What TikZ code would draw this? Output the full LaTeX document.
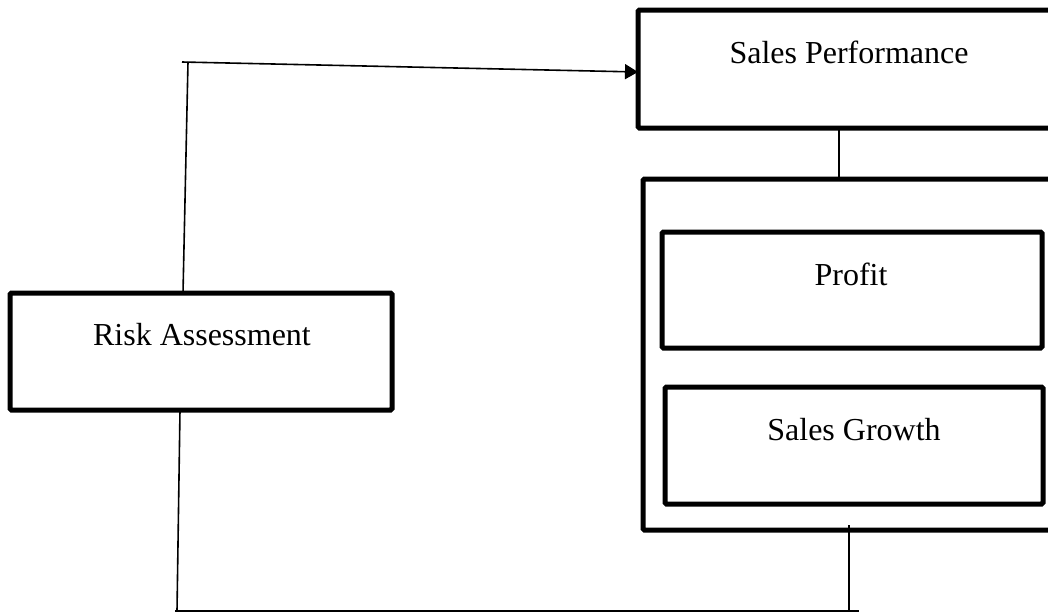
\documentclass[tikz,border=0pt]{standalone}
\usepackage{fontspec}
\setmainfont{Liberation Serif}
\usetikzlibrary{arrows.meta}
\begin{document}
\begin{tikzpicture}[x=1pt,y=-1pt,
  boxnode/.style={draw=black,line width=5pt,rectangle,rounded corners=1.5pt,inner sep=0pt,outer sep=0pt},
  lbl/.style={anchor=base,inner sep=0pt,font=\fontsize{32}{38}\selectfont},
  conn/.style={draw=black,line width=1.6pt}]
\useasboundingbox (0,0) rectangle (1048,613);
\clip (0,0) rectangle (1048,613);
% boxes
\node[boxnode,minimum width=424pt,minimum height=118pt] (sp) at (850,69) {};
\node[boxnode,minimum width=419pt,minimum height=351pt] (cont) at (852.5,354.5) {};
\node[boxnode,minimum width=380pt,minimum height=116pt] (profit) at (852,290) {};
\node[boxnode,minimum width=378pt,minimum height=117pt] (growth) at (854,445.5) {};
\node[boxnode,minimum width=382pt,minimum height=117pt] (risk) at (201,351.5) {};
% texts
\node[lbl] (spt) at (849,63) {Sales Performance};
\node[lbl] (profitt) at (851,285) {Profit};
\node[lbl] (growtht) at (854,440) {Sales Growth};
\node[lbl] (riskt) at (202,345) {Risk Assessment};
% helper coordinates
\coordinate (rtop) at (183,293);
\coordinate (c2) at (188,62);
\coordinate (c1) at (182,62);
\coordinate (xm) at (839,0);
\coordinate (rbot) at (180,410);
\coordinate (b1) at (177,611);
\coordinate (b0) at (175,611);
\coordinate (b2) at (859,611);
\coordinate (g1) at (849,525);
\coordinate (g2) at (849,611);
% connectors
\draw[conn] (rtop) -- (c2);
\draw[conn,-{Triangle[length=13pt,width=15pt]}] (c1) -- (sp.west |- 0,72);
\draw[conn] (sp.south -| xm) -- (cont.north -| xm);
\draw[conn] (rbot) -- (b1);
\draw[conn] (b0) -- (b2);
\draw[conn] (g1) -- (g2);
\end{tikzpicture}
\end{document}
